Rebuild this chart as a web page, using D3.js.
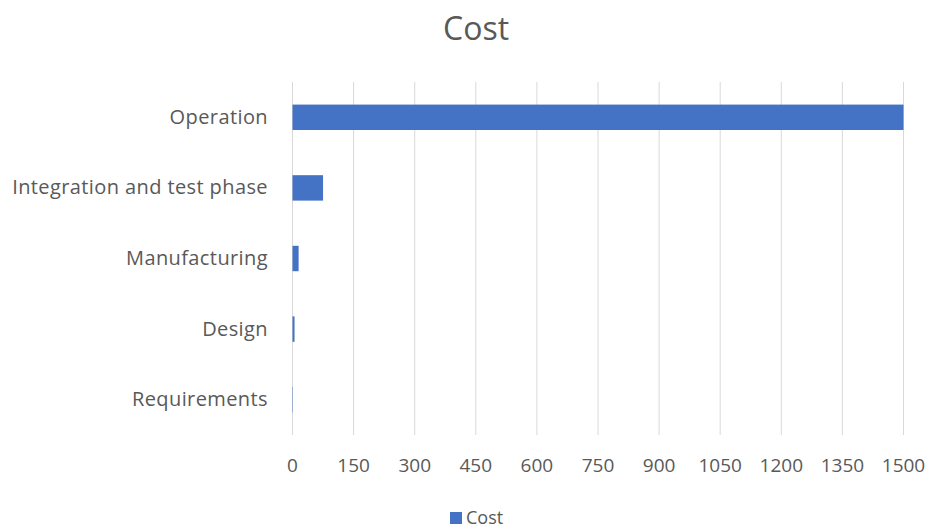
<!DOCTYPE html>
<html>
<head>
<meta charset="utf-8">
<script src="https://cdn.jsdelivr.net/npm/d3@7"></script>
<style>
  body { margin: 0; background: #fff; }
  text { font-family: "Open Sans", "Noto Sans", sans-serif; fill: #595959; }
</style>
</head>
<body>
<div id="chart"></div>
<script>
// data
const phases = ["Requirements", "Design", "Manufacturing", "Integration and test phase", "Operation"];
const costs = [1, 5, 15, 75, 1500];
const xTicks = [0, 150, 300, 450, 600, 750, 900, 1050, 1200, 1350, 1500];

const W = 928, H = 530;
const margin = {left: 292, top: 82, right: 25, bottom: 95};
const width = 903 - margin.left,
    height = 435 - margin.top;

const svg = d3.select("#chart").append("svg")
    .attr("width", W)
    .attr("height", H);

const g = svg.append("g")
    .attr("transform", `translate(${margin.left}, ${margin.top})`);

const xScale = d3.scaleLinear()
    .domain([0, 1500])
    .range([0, width]);
const yScale = d3.scaleBand()
    .domain(phases)
    .range([height, 0])
    .paddingInner(0.64)
    .paddingOuter(0.32);

// vertical grid lines
g.selectAll(".grid")
    .data(xTicks)
    .enter().append("line")
    .attr("x1", d => xScale(d) + 0.5)
    .attr("x2", d => xScale(d) + 0.5)
    .attr("y1", 0)
    .attr("y2", height)
    .attr("stroke", "#d9d9d9")
    .attr("stroke-width", 1);

// bottom axis, labels only
const xAxis = g.append("g")
    .attr("transform", `translate(0, ${height})`)
    .call(d3.axisBottom(xScale).tickValues(xTicks).tickFormat(d3.format("d"))
        .tickSize(0).tickPadding(24));
xAxis.select(".domain").remove();
xAxis.selectAll("text")
    .attr("font-size", "19px")
    .attr("font-family", null)
    .style("fill", "#595959");

// category labels
const yAxis = g.append("g")
    .call(d3.axisLeft(yScale).tickSize(0).tickPadding(24));
yAxis.select(".domain").remove();
yAxis.selectAll("text")
    .attr("font-size", "20px")
    .attr("letter-spacing", "0.4px")
    .attr("font-family", null)
    .style("fill", "#595959");

// bars
g.selectAll(".bar")
    .data(phases)
    .enter().append("rect")
    .attr("class", "bar")
    .attr("x", 0.5)
    .attr("y", d => yScale(d))
    .attr("width", (d, i) => xScale(costs[i]))
    .attr("height", yScale.bandwidth())
    .attr("fill", "#4472c4");

// title
svg.append("text")
    .attr("x", 476)
    .attr("y", 40)
    .attr("text-anchor", "middle")
    .attr("font-size", "32px")
    .text("Cost");

// legend
svg.append("rect")
    .attr("x", 450)
    .attr("y", 512)
    .attr("width", 12)
    .attr("height", 12)
    .attr("fill", "#4472c4");
svg.append("text")
    .attr("x", 466)
    .attr("y", 524)
    .attr("font-size", "18px")
    .text("Cost");
</script>
</body>
</html>
